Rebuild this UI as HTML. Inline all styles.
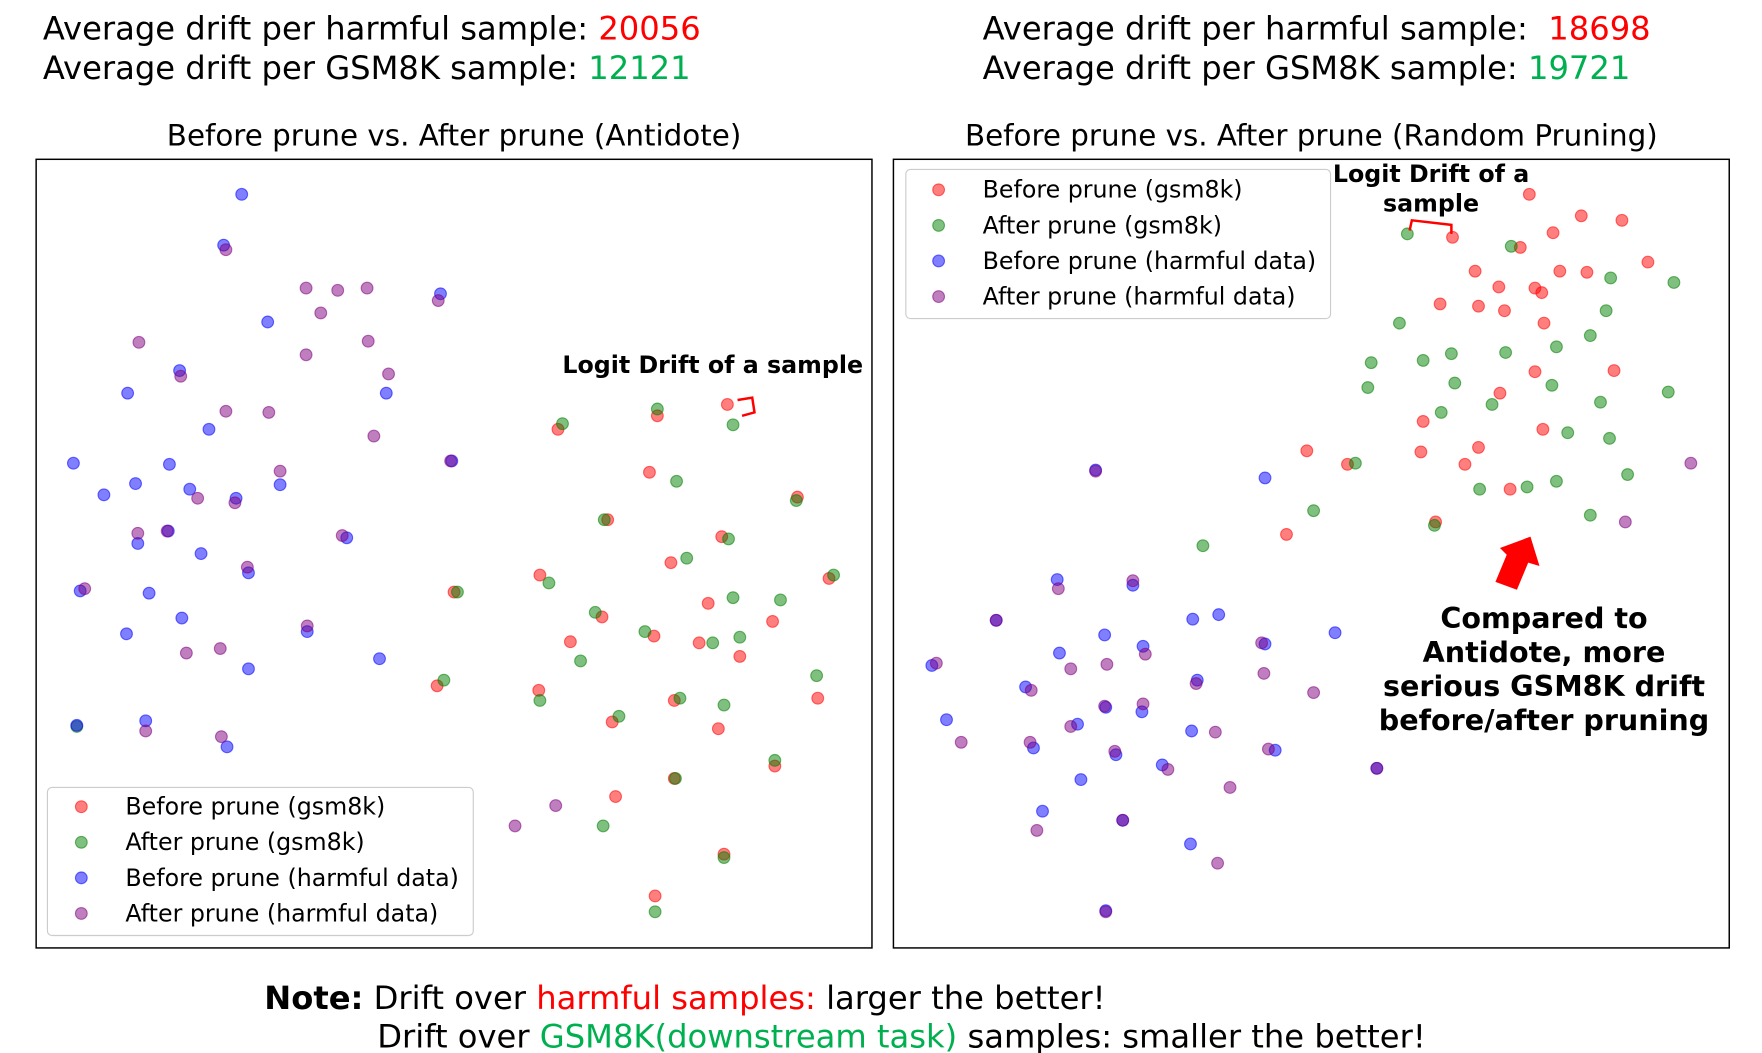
<!DOCTYPE html>
<html><head><meta charset="utf-8"><style>
html,body{margin:0;padding:0;background:#fff;}
svg{display:block;font-family:"DejaVu Sans","Liberation Sans",sans-serif;}
</style></head><body>
<svg id="fig" width="1762" height="1053" viewBox="0 0 1560 932" preserveAspectRatio="none" xmlns="http://www.w3.org/2000/svg">
<g font-size="28.5">
<text x="38" y="35">Average drift per harmful sample: <tspan fill="#ff0000">20056</tspan></text>
<text x="38" y="70">Average drift per GSM8K sample: <tspan fill="#00b050">12121</tspan></text>
</g>
<g font-size="28.5">
<text x="870" y="35">Average drift per harmful sample:&#160; <tspan fill="#ff0000">18698</tspan></text>
<text x="870" y="70">Average drift per GSM8K sample: <tspan fill="#00b050">19721</tspan></text>
</g>
<text x="402" y="129" text-anchor="middle" font-size="26">Before prune vs. After prune (Antidote)</text>
<text x="1161" y="129" text-anchor="middle" font-size="26">Before prune vs. After prune (Random Pruning)</text>
<rect x="32" y="141" width="740" height="698" fill="none" stroke="#000" stroke-width="1.3"/>
<rect x="791" y="141" width="740" height="698" fill="none" stroke="#000" stroke-width="1.3"/>
<g id="leftMarks"></g><g id="rightMarks"></g>
<g>
<rect x="42" y="697" width="377" height="131" rx="4" fill="#fff" fill-opacity="0.8" stroke="#ccc"/>
</g>
<g>
<rect x="802" y="150" width="376" height="132" rx="4" fill="#fff" fill-opacity="0.8" stroke="#ccc"/>
</g>
<g id="legends" font-size="21"></g>
<text x="631" y="330" text-anchor="middle" font-size="21" font-weight="bold">Logit Drift of a sample</text>
<polyline points="653,354 666,352 668,365 657,368" fill="none" stroke="#f00" stroke-width="2.2"/>
<text x="1267" y="161" text-anchor="middle" font-size="21" font-weight="bold">Logit Drift of a</text>
<text x="1267" y="187" text-anchor="middle" font-size="21" font-weight="bold">sample</text>
<polyline points="1248,204 1250,195 1285,199 1285,207" fill="none" stroke="#f00" stroke-width="2.2"/>
<polygon points="1355,475 1363,501 1353,498 1343,522 1324,515 1334,491 1328,485" fill="#f00"/>
<g font-size="25.3" font-weight="bold" text-anchor="middle">
<text x="1367" y="556">Compared to</text>
<text x="1367" y="586">Antidote, more</text>
<text x="1367" y="616">serious GSM8K drift</text>
<text x="1367" y="646">before/after pruning</text>
</g>
<g font-size="28.5">
<text x="234" y="893"><tspan font-weight="bold">Note:</tspan> Drift over <tspan fill="#ff0000">harmful samples:</tspan> larger the better!</text>
<text x="334" y="927">Drift over <tspan fill="#00b050">GSM8K(downstream task)</tspan> samples: smaller the better!</text>
</g>
</svg>
<script>
// data units: x 0-74, y 0-69.8 (t-SNE embedding coordinates)
const leftRedX=[61.2,46.2,55.0,54.3,67.4,50.6,60.7,56.2,44.6,37.0,70.2,59.5,50.1,65.2,47.3,54.7,58.7,62.3,35.5,44.5,56.5,69.2,51.0,60.4,56.5,65.4,51.3,60.9,54.8];
const leftRedY=[48.1,45.9,47.1,42.1,39.9,37.9,36.4,34.1,33.0,31.5,32.7,30.5,29.3,28.9,27.1,27.6,27.0,25.8,23.2,22.8,21.9,22.1,20.0,19.4,15.0,16.1,13.4,8.3,4.6];
const leftGreenX=[55.0,46.6,61.7,56.7,67.3,50.3,61.3,57.6,45.4,37.3,70.6,61.7,49.5,65.9,48.2,53.9,59.9,62.3,36.1,44.6,57.0,69.1,51.6,60.9,56.6,65.4,50.2,60.9,54.8,3.6];
const leftGreenY=[47.7,46.4,46.3,41.3,39.6,37.9,36.2,34.5,32.3,31.5,33.0,31.0,29.7,30.8,25.4,28.0,27.0,27.5,23.7,21.9,22.1,24.1,20.5,21.5,15.0,16.6,10.8,8.0,3.2,19.6];
const leftBlueX=[18.2,16.6,35.8,20.5,12.7,8.1,31.0,15.3,36.8,3.3,11.8,6.0,8.8,13.6,21.6,17.7,11.7,9.0,27.5,14.6,18.8,3.9,10.0,12.9,8.0,24.0,30.4,18.8,9.7,16.9,3.6];
const leftBlueY=[66.7,62.2,57.9,55.4,51.1,49.1,49.1,45.9,43.1,42.9,42.8,40.1,41.1,40.6,41.0,39.8,36.9,35.8,36.3,34.9,33.2,31.6,31.4,29.2,27.8,28.0,25.6,24.7,20.1,17.8,19.7];
const leftPurpleX=[16.8,23.9,26.7,29.3,25.2,35.6,9.1,29.4,23.9,12.8,31.2,16.8,20.6,29.9,36.7,21.6,14.3,17.6,9.0,11.6,27.1,18.7,4.3,24.0,13.3,16.3,9.7,16.4,42.4,46.0];
const leftPurpleY=[61.8,58.4,58.2,58.4,56.2,57.3,53.6,53.7,52.5,50.6,50.8,47.5,47.4,45.3,43.1,42.2,39.8,39.4,36.7,36.9,36.5,33.7,31.8,28.5,26.1,26.5,19.2,18.7,10.8,12.6];
const rightRedX=[56.3,60.9,64.5,58.4,49.5,55.5,51.5,59.0,61.4,66.8,53.6,56.8,57.4,48.4,51.8,54.1,57.6,63.8,56.8,53.7,46.9,57.5,36.6,40.2,46.7,51.8,50.6,54.6,48.0,34.8];
const rightRedY=[66.7,64.8,64.4,63.3,62.9,62.0,59.9,59.9,59.8,60.7,58.5,58.4,58.0,57.0,56.8,56.4,55.3,51.1,51.0,49.1,46.6,45.9,44.0,42.8,43.9,44.3,42.8,40.6,37.7,36.6];
const rightGreenX=[45.5,54.7,63.5,69.1,63.1,44.8,61.7,49.4,54.2,46.9,42.3,58.7,49.7,42.0,58.3,62.6,53.0,48.5,68.6,59.7,63.4,40.9,65.0,58.7,56.1,51.9,37.2,61.7,47.9,27.4];
const rightGreenY=[63.2,62.1,59.3,58.9,56.4,55.3,54.2,52.6,52.7,52.0,51.8,53.2,50.0,49.6,49.8,48.3,48.1,47.4,49.2,45.6,45.1,42.9,41.9,41.3,40.8,40.6,38.7,38.3,37.4,35.6];
const rightBlueX=[17.9,32.9,14.5,21.2,9.1,28.8,26.5,14.7,18.7,22.1,32.9,39.1,3.4,26.9,11.7,16.3,18.8,22.0,4.7,26.4,12.4,19.7,33.8,23.8,16.6,42.8,13.2,20.3,26.3,18.8];
const rightBlueY=[42.3,41.6,32.6,32.1,29.0,29.5,29.1,26.1,27.7,26.7,26.9,27.9,25.0,23.7,23.1,19.8,21.3,20.9,20.2,19.2,17.7,17.1,17.5,16.2,14.9,15.9,12.1,11.3,9.2,3.3];
const rightPurpleX=[70.6,64.8,17.9,14.6,21.2,9.1,3.8,22.3,32.6,15.7,18.9,26.8,32.8,37.2,12.2,15.7,18.7,22.1,6.0,12.1,28.5,19.6,24.3,33.2,29.8,42.8,12.7,20.3,28.7,18.8];
const rightPurpleY=[42.9,37.7,42.2,31.8,32.5,29.0,25.2,26.0,27.0,24.7,25.1,23.4,24.3,22.6,22.8,19.6,21.4,21.6,18.2,18.2,19.1,17.4,15.8,17.6,14.2,15.9,10.4,11.3,7.5,3.2];

const NS='http://www.w3.org/2000/svg';
function xL(v){return 32+v*10;} function xR(v){return 791+v*10;} function yS(v){return 839-v*10;}
const cols={red:['#ff0000'],green:['#008000'],blue:['#0000ff'],purple:['#800080']};
function draw(g,xs,ys,xf,c,name){
  for(let i=0;i<xs.length;i++){
    const el=document.createElementNS(NS,'circle');
    el.setAttribute('cx',xf(xs[i]));el.setAttribute('cy',yS(ys[i]));el.setAttribute('r',5.2);
    el.setAttribute('fill',cols[c][0]);el.setAttribute('fill-opacity',0.5);
    el.setAttribute('stroke',cols[c][0]);el.setAttribute('stroke-opacity',0.55);el.setAttribute('stroke-width',1);
    
    
    g.appendChild(el);
  }
}
const gl=document.getElementById('leftMarks'),gr=document.getElementById('rightMarks');
draw(gl,leftRedX,leftRedY,xL,'red','point-before-gsm8k');
draw(gl,leftGreenX,leftGreenY,xL,'green','point-after-gsm8k');
draw(gl,leftBlueX,leftBlueY,xL,'blue','point-before-harmful');
draw(gl,leftPurpleX,leftPurpleY,xL,'purple','point-after-harmful');
draw(gr,rightRedX,rightRedY,xR,'red','point-before-gsm8k');
draw(gr,rightGreenX,rightGreenY,xR,'green','point-after-gsm8k');
draw(gr,rightBlueX,rightBlueY,xR,'blue','point-before-harmful');
draw(gr,rightPurpleX,rightPurpleY,xR,'purple','point-after-harmful');

const legendLabels=['Before prune (gsm8k)','After prune (gsm8k)','Before prune (harmful data)','After prune (harmful data)'];
const legendColors=['red','green','blue','purple'];
const lg=document.getElementById('legends');
function legend(mx,tx,y0){
  for(let i=0;i<4;i++){
    const y=y0+i*31.5;
    const c=document.createElementNS(NS,'circle');
    c.setAttribute('cx',mx);c.setAttribute('cy',y);c.setAttribute('r',5.2);
    c.setAttribute('fill',cols[legendColors[i]][0]);c.setAttribute('fill-opacity',0.5);
    c.setAttribute('stroke',cols[legendColors[i]][0]);c.setAttribute('stroke-opacity',0.55);
    
    
    lg.appendChild(c);
    const t=document.createElementNS(NS,'text');
    t.setAttribute('x',tx);t.setAttribute('y',y+7);t.textContent=legendLabels[i];
    
    
    lg.appendChild(t);
  }
}
legend(72,111,714);
legend(831,870,168);
</script>
</body></html>
